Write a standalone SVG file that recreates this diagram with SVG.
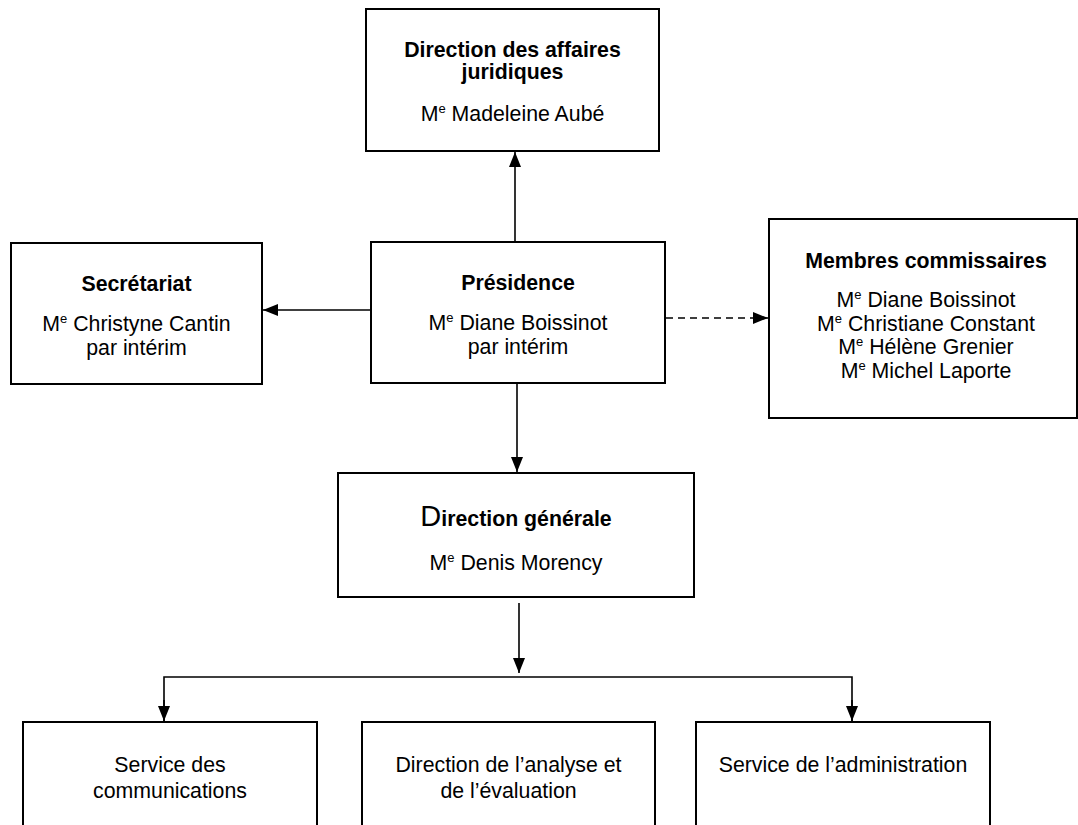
<svg xmlns="http://www.w3.org/2000/svg" width="1078" height="825" viewBox="0 0 1078 825">
<defs>
<marker id="ah" viewBox="0 0 15 12" refX="15" refY="6" markerWidth="15" markerHeight="12" markerUnits="userSpaceOnUse" orient="auto">
<path d="M0,0 L15,6 L0,12 Z" fill="#000"/>
</marker>
</defs>
<style>
.box{fill:#fff;stroke:#000;stroke-width:2}
.t{font-family:"Liberation Sans",Arial,sans-serif;font-size:21.3px;fill:#000;text-anchor:middle}
.b{font-weight:bold}
.sup{font-size:13px}
.c{stroke:#000;stroke-width:1.6;fill:none}
</style>
<rect width="1078" height="825" fill="#fff"/>
<g id="n-juridiques">
<rect class="box" x="366" y="9" width="293" height="142"/>
<text class="t b" x="512.5" y="57">Direction des affaires</text>
<text class="t b" x="512.5" y="79">juridiques</text>
<text class="t" x="512.5" y="121">M<tspan class="sup" dy="-8">e</tspan><tspan dy="8"> Madeleine Aubé</tspan></text>
</g>
<g id="n-secretariat">
<rect class="box" x="11" y="243" width="251" height="141"/>
<text class="t b" x="136.5" y="291">Secrétariat</text>
<text class="t" x="136.5" y="331">M<tspan class="sup" dy="-8">e</tspan><tspan dy="8"> Christyne Cantin</tspan></text>
<text class="t" x="136.5" y="355">par intérim</text>
</g>
<g id="n-presidence">
<rect class="box" x="371" y="242" width="294" height="141"/>
<text class="t b" x="518" y="290">Présidence</text>
<text class="t" x="518" y="330">M<tspan class="sup" dy="-8">e</tspan><tspan dy="8"> Diane Boissinot</tspan></text>
<text class="t" x="518" y="354">par intérim</text>
</g>
<g id="n-membres">
<rect class="box" x="769" y="219" width="308" height="199"/>
<text class="t b" x="926" y="268">Membres commissaires</text>
<text class="t" x="926" y="307">M<tspan class="sup" dy="-8">e</tspan><tspan dy="8"> Diane Boissinot</tspan></text>
<text class="t" x="926" y="330.5">M<tspan class="sup" dy="-8">e</tspan><tspan dy="8"> Christiane Constant</tspan></text>
<text class="t" x="926" y="354">M<tspan class="sup" dy="-8">e</tspan><tspan dy="8"> Hélène Grenier</tspan></text>
<text class="t" x="926" y="377.5">M<tspan class="sup" dy="-8">e</tspan><tspan dy="8"> Michel Laporte</tspan></text>
</g>
<g id="n-dg">
<rect class="box" x="338" y="473" width="356" height="124"/>
<text class="t" x="516" y="526"><tspan style="font-size:29px">D</tspan><tspan class="b">irection générale</tspan></text>
<text class="t" x="516" y="570">M<tspan class="sup" dy="-8">e</tspan><tspan dy="8"> Denis Morency</tspan></text>
</g>
<g id="n-communications">
<rect class="box" x="23" y="722" width="294" height="120"/>
<text class="t" x="170" y="772">Service des</text>
<text class="t" x="170" y="798">communications</text>
</g>
<g id="n-analyse">
<rect class="box" x="362" y="722" width="293" height="120"/>
<text class="t" x="508.5" y="772">Direction de l’analyse et</text>
<text class="t" x="508.5" y="798">de l’évaluation</text>
</g>
<g id="n-administration">
<rect class="box" x="696" y="722" width="294" height="120"/>
<text class="t" x="843" y="772">Service de l’administration</text>
</g>
<g id="connectors">
<line class="c" x1="515" y1="241" x2="515" y2="152" marker-end="url(#ah)"/>
<line class="c" x1="370" y1="310" x2="263" y2="310" marker-end="url(#ah)"/>
<line class="c" x1="666" y1="318" x2="768" y2="318" stroke-dasharray="7,5" marker-end="url(#ah)"/>
<line class="c" x1="517" y1="384" x2="517" y2="472" marker-end="url(#ah)"/>
<line class="c" x1="519" y1="603" x2="519" y2="673" marker-end="url(#ah)"/>
<polyline class="c" points="164,721 164,677 852,677 852,721"/>
<line class="c" x1="164" y1="700" x2="164" y2="721" marker-end="url(#ah)"/>
<line class="c" x1="852" y1="700" x2="852" y2="721" marker-end="url(#ah)"/>
</g>
</svg>
